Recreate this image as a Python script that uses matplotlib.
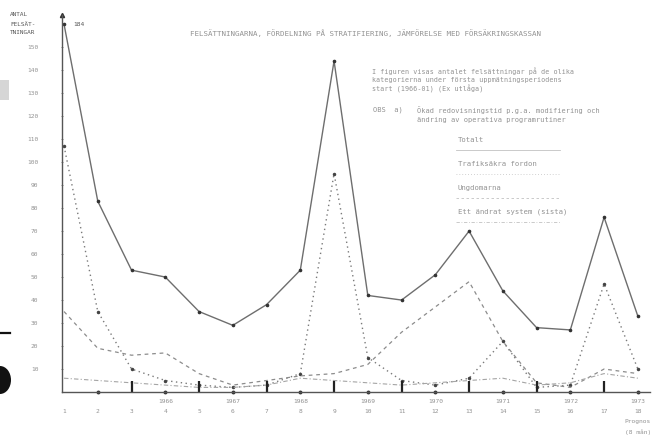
import matplotlib
matplotlib.use("Agg")
import matplotlib.pyplot as plt
import numpy as np
from matplotlib.patches import Rectangle, Ellipse

# period numbers (half years) and years written above them
periods = list(range(1, 19))
year_labels = ['', '', '', '1966', '', '1967', '', '1968', '', '1969',
               '', '1970', '', '1971', '', '1972', '', '1973']

# values
totalt = [184, 83, 53, 50, 35, 29, 38, 53, 144, 42, 40, 51, 70, 44, 28, 27, 76, 33]
serie_b = [107, 35, 10, 5, 3, 2, 3, 8, 95, 15, 5, 3, 6, 22, 2, 3, 47, 10]
serie_c = [35, 19, 16, 17, 8, 3, 5, 7, 8, 12, 26, 37, 48, 22, 4, 2, 10, 8]
serie_d = [6, 5, 4, 3, 2, 2, 3, 6, 5, 4, 3, 4, 5, 6, 3, 4, 8, 6]

y_ticks = [10, 20, 30, 40, 50, 60, 70, 80, 90, 100, 110, 120, 130, 140, 150]
legend_labels = ['Totalt', 'Trafiksäkra fordon', 'Ungdomarna', 'Ett ändrat system (sista)']

W, H = 655, 442
mono = 'DejaVu Sans Mono'
grey = '#939393'

fig = plt.figure(figsize=(W / 100, H / 100), dpi=100)
ax = fig.add_axes([62 / W, (H - 392) / H, (650 - 62) / W, (392 - 15) / H])

# the first value goes off the top of the scale, drawn cut with its number
cap = 160
ax.plot(periods, np.minimum(totalt, cap), color='#6e6e6e', lw=1.0, ls='-')
ax.plot(periods, np.minimum(totalt, cap), ls='none', marker='o', ms=1.6, color='#333333')
ax.annotate(str(totalt[0]), (1, cap), xytext=(7, 0), textcoords='offset points',
            fontsize=4.5, family=mono, color='#555555', va='center')

ax.plot(periods, serie_b, color='#7a7a7a', lw=1.0, ls=(0, (1, 2.5)))
ax.plot(periods, serie_b, ls='none', marker='o', ms=1.5, color='#444444')
ax.plot(periods, serie_c, color='#8c8c8c', lw=0.9, ls=(0, (3, 3)))
ax.plot(periods, serie_d, color='#a5a5a5', lw=0.8, ls=(0, (4, 2, 1, 2)))

ax.set_xlim(0.94, 18.36)
ax.set_ylim(0, 164)

for side in ['top', 'right']:
    ax.spines[side].set_visible(False)
for side in ['left', 'bottom']:
    ax.spines[side].set_color('#555555')
    ax.spines[side].set_linewidth(1.0)
ax.plot(0, 1, marker='^', ms=3, color='#333333', transform=ax.transAxes, clip_on=False)

ax.set_yticks(y_ticks)
ax.set_yticklabels([str(v) for v in y_ticks])
ax.tick_params(axis='y', length=2, width=0.6, color='#777777', direction='inout',
               pad=16, labelsize=4.5, labelcolor=grey)
for lab in ax.get_yticklabels():
    lab.set_family(mono)

# x labels: year over period number, forecast note under the last one
xlabels = []
for p, yr in zip(periods, year_labels):
    lab = (yr + '\n' if yr else '\n') + str(p)
    if p == 18:
        lab += '\nPrognos\n(8 mån)'
    xlabels.append(lab)
ax.set_xticks(periods)
ax.set_xticklabels(xlabels, fontsize=4.5, color=grey, family=mono, linespacing=2.2)
ax.tick_params(axis='x', length=0, pad=5)

# heavy marks at odd periods, dots at even ones on the time axis
odd = [p for p in periods if p % 2 == 1 and p > 1]
even = [p for p in periods if p % 2 == 0]
ax.vlines(odd, 0, 5, color='#222222', lw=1.6, clip_on=False)
ax.plot(even, [0] * len(even), ls='none', marker='o', ms=1.8, color='#333333', clip_on=False)

# texts
def ftext(x, y, s, color=grey, **kw):
    fig.text(x / W, 1 - y / H, s, family=mono, color=color, va='center', **kw)

ftext(10, 14, 'ANTAL', fontsize=4.3, color='#555555')
ftext(10, 24, 'FELSÄT-', fontsize=4.3, color='#555555')
ftext(10, 33, 'TNINGAR', fontsize=4.3, color='#555555')

ftext(190, 33, 'FELSÄTTNINGARNA, FÖRDELNING PÅ STRATIFIERING, JÄMFÖRELSE MED FÖRSÄKRINGSKASSAN',
      fontsize=5.4)
ftext(372, 71, 'I figuren visas antalet felsättningar på de olika', fontsize=4.9)
ftext(372, 80, 'kategorierna under första uppmätningsperiodens', fontsize=4.9)
ftext(372, 89, 'start (1966-01) (Ex utlåga)', fontsize=4.9)
ftext(373, 110, 'OBS  a)', fontsize=5.0)
ftext(417, 110, 'Ökad redovisningstid p.g.a. modifiering och', fontsize=5.0)
ftext(417, 120, 'ändring av operativa programrutiner', fontsize=5.0)

styles = ['-', (0, (1, 2.5)), (0, (3, 3)), (0, (4, 2, 1, 2))]
for i, (lab, st) in enumerate(zip(legend_labels, styles)):
    y = 140 + i * 24
    ftext(458, y, lab, fontsize=5.2)
    fig.add_artist(plt.Line2D([456 / W, 560 / W], [1 - (y + 10) / H] * 2,
                              color='#c2c2c2', lw=0.6, ls=st))

# scan marks in the left margin
fig.add_artist(Rectangle((0, 1 - 100 / H), 9 / W, 20 / H, color='#d6d6d6', lw=0))
fig.add_artist(plt.Line2D([0, 10 / W], [1 - 333 / H] * 2, color='#111111', lw=1.6))
fig.add_artist(Ellipse((0, 1 - 380 / H), 22 / W, 28 / H, color='#111111', lw=0))

fig.savefig('out.png', dpi=100, facecolor='white')
